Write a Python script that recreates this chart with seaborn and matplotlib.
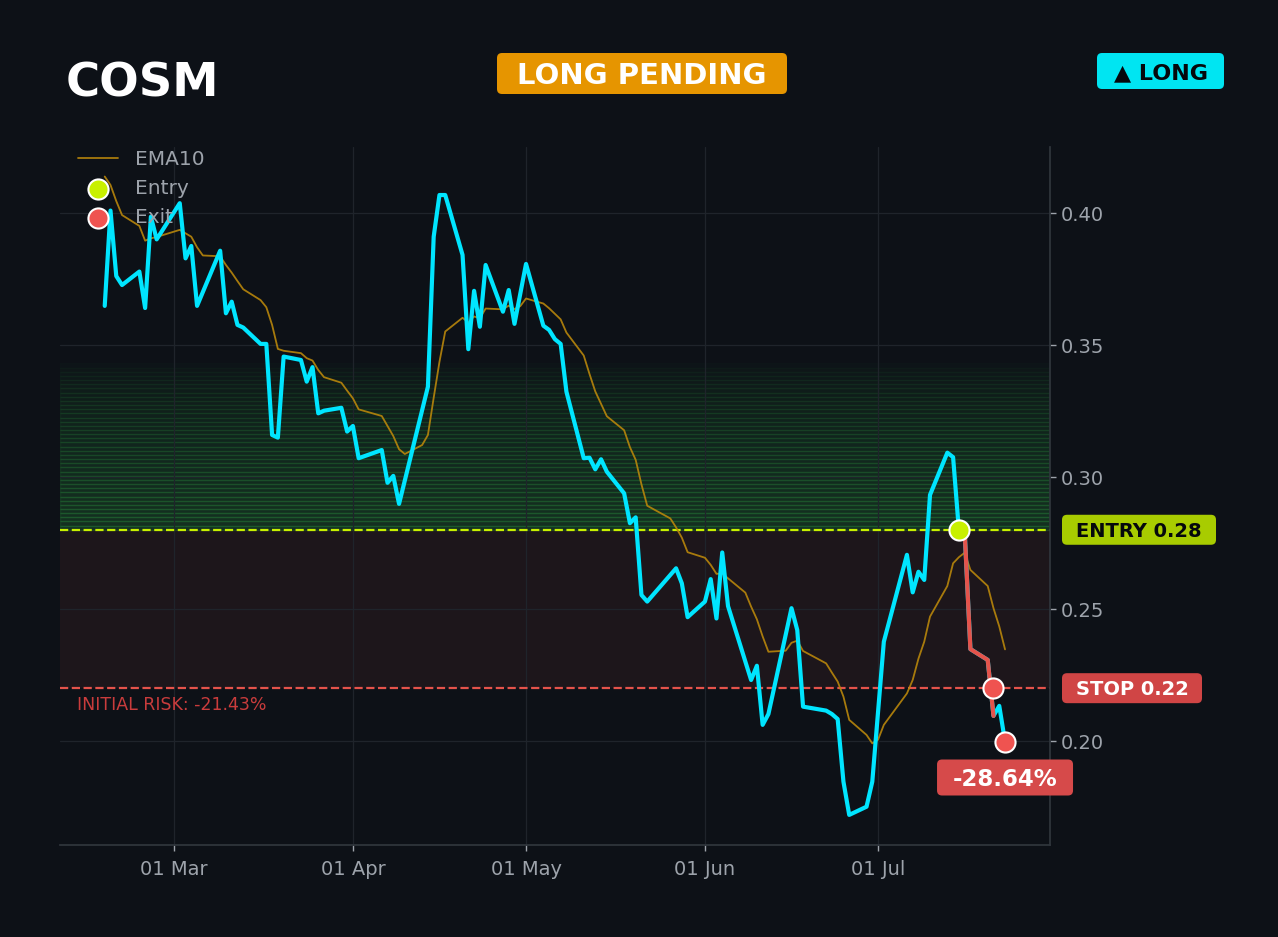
import pandas as pd
import numpy as np
import matplotlib
matplotlib.use("Agg")
import matplotlib.pyplot as plt
import matplotlib.dates as mdates
import seaborn as sns
from matplotlib.patches import FancyBboxPatch
from matplotlib.transforms import IdentityTransform, blended_transform_factory

# DATA

ticker = "COSM"
status = "LONG PENDING"
side = "\u25b2 LONG"

entry_price = 0.28
stop_price = 0.22
entry_date = "2026-07-15"
stop_date = "2026-07-21"

close_dates = [
    "2026-02-17", "2026-02-18", "2026-02-19", "2026-02-20", "2026-02-23", "2026-02-24",
    "2026-02-25", "2026-02-26", "2026-03-02", "2026-03-03", "2026-03-04", "2026-03-05",
    "2026-03-09", "2026-03-10", "2026-03-11", "2026-03-12", "2026-03-13", "2026-03-16",
    "2026-03-17", "2026-03-18", "2026-03-19", "2026-03-20", "2026-03-23", "2026-03-24",
    "2026-03-25", "2026-03-26", "2026-03-27", "2026-03-30", "2026-03-31", "2026-04-01",
    "2026-04-02", "2026-04-06", "2026-04-07", "2026-04-08", "2026-04-09", "2026-04-14",
    "2026-04-15", "2026-04-16", "2026-04-17", "2026-04-20", "2026-04-21", "2026-04-22",
    "2026-04-23", "2026-04-24", "2026-04-27", "2026-04-28", "2026-04-29", "2026-05-01",
    "2026-05-04", "2026-05-05", "2026-05-06", "2026-05-07", "2026-05-08", "2026-05-11",
    "2026-05-12", "2026-05-13", "2026-05-14", "2026-05-15", "2026-05-18", "2026-05-19",
    "2026-05-20", "2026-05-21", "2026-05-22", "2026-05-27", "2026-05-28", "2026-05-29",
    "2026-06-01", "2026-06-02", "2026-06-03", "2026-06-04", "2026-06-05", "2026-06-09",
    "2026-06-10", "2026-06-11", "2026-06-12", "2026-06-16", "2026-06-17", "2026-06-18",
    "2026-06-22", "2026-06-23", "2026-06-24", "2026-06-25", "2026-06-26", "2026-06-29",
    "2026-06-30", "2026-07-02", "2026-07-06", "2026-07-07", "2026-07-08", "2026-07-09",
    "2026-07-10", "2026-07-13", "2026-07-14", "2026-07-15", "2026-07-16", "2026-07-17",
    "2026-07-20", "2026-07-21", "2026-07-22", "2026-07-23",
]
close_vals = [
    0.3648, 0.4009, 0.3761, 0.3727, 0.3778, 0.3640,
    0.3986, 0.3900, 0.4037, 0.3828, 0.3875, 0.3648,
    0.3857, 0.3620, 0.3664, 0.3576, 0.3566, 0.3504,
    0.3504, 0.3159, 0.3149, 0.3456, 0.3443, 0.3361,
    0.3416, 0.3241, 0.3251, 0.3262, 0.3172, 0.3193,
    0.3071, 0.3102, 0.2978, 0.3004, 0.2898, 0.3342,
    0.3910, 0.4068, 0.4068, 0.3841, 0.3484, 0.3705,
    0.3569, 0.3803, 0.3626, 0.3708, 0.3580, 0.3807,
    0.3573, 0.3557, 0.3522, 0.3504, 0.3323, 0.3071,
    0.3073, 0.3029, 0.3067, 0.3020, 0.2938, 0.2825,
    0.2847, 0.2553, 0.2528, 0.2654, 0.2597, 0.2469,
    0.2528, 0.2613, 0.2464, 0.2714, 0.2511, 0.2231,
    0.2285, 0.2061, 0.2102, 0.2503, 0.2420, 0.2130,
    0.2115, 0.2102, 0.2083, 0.1846, 0.1720, 0.1751,
    0.1846, 0.2376, 0.2705, 0.2563, 0.2641, 0.2610,
    0.2932, 0.3092, 0.3075, 0.2800, 0.2795, 0.2348,
    0.2307, 0.2095, 0.2133, 0.1998,
]

ema_dates = [
    "2026-02-17", "2026-02-18", "2026-02-19", "2026-02-20", "2026-02-23", "2026-02-24",
    "2026-02-25", "2026-02-26", "2026-03-02", "2026-03-03", "2026-03-04", "2026-03-05",
    "2026-03-06", "2026-03-09", "2026-03-10", "2026-03-11", "2026-03-12", "2026-03-13",
    "2026-03-16", "2026-03-17", "2026-03-18", "2026-03-19", "2026-03-20", "2026-03-23",
    "2026-03-24", "2026-03-25", "2026-03-26", "2026-03-27", "2026-03-30", "2026-03-31",
    "2026-04-01", "2026-04-02", "2026-04-06", "2026-04-07", "2026-04-08", "2026-04-09",
    "2026-04-10", "2026-04-13", "2026-04-14", "2026-04-15", "2026-04-16", "2026-04-17",
    "2026-04-20", "2026-04-21", "2026-04-22", "2026-04-23", "2026-04-24", "2026-04-27",
    "2026-04-28", "2026-04-29", "2026-04-30", "2026-05-01", "2026-05-04", "2026-05-05",
    "2026-05-06", "2026-05-07", "2026-05-08", "2026-05-11", "2026-05-12", "2026-05-13",
    "2026-05-14", "2026-05-15", "2026-05-18", "2026-05-19", "2026-05-20", "2026-05-21",
    "2026-05-22", "2026-05-26", "2026-05-27", "2026-05-28", "2026-05-29", "2026-06-01",
    "2026-06-02", "2026-06-03", "2026-06-04", "2026-06-05", "2026-06-08", "2026-06-09",
    "2026-06-10", "2026-06-11", "2026-06-12", "2026-06-15", "2026-06-16", "2026-06-17",
    "2026-06-18", "2026-06-22", "2026-06-23", "2026-06-24", "2026-06-25", "2026-06-26",
    "2026-06-29", "2026-06-30", "2026-07-01", "2026-07-02", "2026-07-06", "2026-07-07",
    "2026-07-08", "2026-07-09", "2026-07-10", "2026-07-13", "2026-07-14", "2026-07-15",
    "2026-07-16", "2026-07-17", "2026-07-20", "2026-07-21", "2026-07-22", "2026-07-23",
]
ema_vals = [
    0.4138, 0.4106, 0.4045, 0.3992, 0.3951, 0.3895,
    0.3904, 0.3909, 0.3936, 0.3923, 0.3910, 0.3870,
    0.3839, 0.3836, 0.3803, 0.3774, 0.3742, 0.3711,
    0.3670, 0.3643, 0.3576, 0.3485, 0.3478, 0.3469,
    0.3450, 0.3441, 0.3405, 0.3378, 0.3357, 0.3327,
    0.3298, 0.3256, 0.3231, 0.3193, 0.3155, 0.3105,
    0.3087, 0.3121, 0.3159, 0.3300, 0.3436, 0.3551,
    0.3603, 0.3585, 0.3608, 0.3601, 0.3638, 0.3635,
    0.3649, 0.3636, 0.3647, 0.3676, 0.3657, 0.3639,
    0.3618, 0.3597, 0.3547, 0.3460, 0.3390, 0.3324,
    0.3277, 0.3230, 0.3177, 0.3113, 0.3065, 0.2972,
    0.2891, 0.2843, 0.2809, 0.2770, 0.2715, 0.2694,
    0.2667, 0.2633, 0.2635, 0.2616, 0.2562, 0.2509,
    0.2461, 0.2396, 0.2338, 0.2342, 0.2372, 0.2380,
    0.2341, 0.2294, 0.2259, 0.2225, 0.2168, 0.2080,
    0.2023, 0.1991, 0.2005, 0.2061, 0.2180, 0.2231,
    0.2312, 0.2376, 0.2471, 0.2587, 0.2673, 0.2696,
    0.2713, 0.2648, 0.2587, 0.2503, 0.2434, 0.2347,
]

df = pd.DataFrame({"Date": pd.to_datetime(close_dates), "Close": close_vals})
ema = pd.DataFrame({"Date": pd.to_datetime(ema_dates), "EMA10": ema_vals})

trade = df[(df["Date"] >= entry_date) & (df["Date"] <= stop_date)]
last_date = df["Date"].iloc[-1]
last_close = df["Close"].iloc[-1]

initial_risk = (stop_price - entry_price) / entry_price * 100
final_ret = (last_close - entry_price) / entry_price * 100

# COLOURS

BG = "#0d1117"
CYAN = "#00e5ff"
RED = "#e5534b"
LIME = "#c8f000"
GRAY = "#9da3ab"

# STYLE

sns.set_theme(style="dark")
plt.rcParams["font.family"] = ["DejaVu Sans"]

fig = plt.figure(figsize=(12.78, 9.3705), dpi=100, facecolor=BG)
ax = fig.add_axes([60 / 1278, 1 - 845 / 937, 990 / 1278, 698 / 937])
ax.set_facecolor(BG)

# ZONES

ax.axhspan(stop_price, entry_price, color=RED, alpha=0.08, lw=0, zorder=0)

# stacked bands; the edge stroke of each band leaves the thin stripes
n_bands = 40
zone_top = 0.343
dh = (zone_top - entry_price) / n_bands
for i in range(n_bands):
    ax.axhspan(entry_price + i * dh, entry_price + (i + 1) * dh,
               color="#2ea043", alpha=0.22 * (1 - i / n_bands) ** 0.6, lw=1, zorder=0)

ax.axhline(entry_price, color=LIME, ls="--", lw=1.6, zorder=2)
ax.axhline(stop_price, color=RED, ls="--", lw=1.6, zorder=2)

# LINES

sns.lineplot(data=ema, x="Date", y="EMA10", color="#b8860b", lw=1.3, alpha=0.9,
             label="EMA10", ax=ax, zorder=3)
sns.lineplot(data=df, x="Date", y="Close", color=CYAN, lw=3, ax=ax, zorder=4)
sns.lineplot(data=trade, x="Date", y="Close", color=RED, lw=3, ax=ax, zorder=5)

sns.scatterplot(x=[pd.Timestamp(entry_date)], y=[entry_price], s=210, color=LIME,
                edgecolor="white", linewidth=1.5, label="Entry", ax=ax, zorder=6)
sns.scatterplot(x=[pd.Timestamp(stop_date), last_date], y=[stop_price, last_close], s=210,
                color="#ef5350", edgecolor="white", linewidth=1.5, label="Exit", ax=ax, zorder=6)

# AXES

ax.set_xlim(pd.Timestamp("2026-02-09 06:00"), pd.Timestamp("2026-07-30 19:00"))
ax.set_ylim(0.1606, 0.425)
ax.set_xlabel("")
ax.set_ylabel("")

ax.xaxis.set_major_locator(mdates.MonthLocator())
ax.xaxis.set_major_formatter(mdates.DateFormatter("%d %b"))
ax.yaxis.tick_right()
ax.set_yticks([0.20, 0.25, 0.30, 0.35, 0.40])
ax.yaxis.set_major_formatter(matplotlib.ticker.FormatStrFormatter("%.2f"))

ax.grid(True, color="#1f242b", lw=0.9)
ax.tick_params(axis="both", colors=GRAY, labelsize=14, length=4, width=1)
ax.tick_params(axis="x", bottom=True, pad=7)
ax.tick_params(axis="y", right=True, left=False)
for s in ["top", "left"]:
    ax.spines[s].set_visible(False)
for s in ["right", "bottom"]:
    ax.spines[s].set_visible(True)
    ax.spines[s].set_color("#30363d")

ax.text(0.017, 0.2135, f"INITIAL RISK: {initial_risk:.2f}%",
        transform=blended_transform_factory(ax.transAxes, ax.transData),
        color="#c93c3c", fontsize=12.5, va="center", ha="left")

leg = ax.legend(loc="upper left", bbox_to_anchor=(0, 1.022), frameon=False,
                labelcolor=GRAY, fontsize=14.5)

# BADGES


def badge(cx, cy, w, h, text, fc, tc, size):
    fig.patches.append(FancyBboxPatch((cx - w / 2, cy - h / 2), w, h,
                                      boxstyle="round,pad=0,rounding_size=5",
                                      transform=IdentityTransform(), facecolor=fc,
                                      edgecolor="none", figure=fig, zorder=10))
    fig.text(cx, cy - 0.35 * size * 100 / 72, text, transform=IdentityTransform(),
             ha="center", va="baseline", color=tc, fontsize=size, fontweight="bold",
             zorder=11)


H = 937
fig.text(66, H - 96, ticker, transform=IdentityTransform(), color="white",
         fontsize=33.5, fontweight="bold", ha="left", va="baseline")
badge(642, H - 73.5, 290, 41, status, "#e69500", "white", 21)
badge(1160.5, H - 71, 127, 36, side, "#00e5f2", "#05080c", 16)

ey = ax.transData.transform((0, entry_price))[1]
sy = ax.transData.transform((0, stop_price))[1]
badge(1139, ey, 154, 30, f"ENTRY {entry_price:.2f}", "#a8cc00", "#05080c", 14)
badge(1132, sy, 140, 30, f"STOP {stop_price:.2f}", "#d04545", "white", 14)

lx, ly = ax.transData.transform((mdates.date2num(last_date), last_close))
badge(lx, ly - 36, 136, 36, f"{final_ret:.2f}%", "#d64a4a", "white", 16.5)

fig.savefig("out.png", dpi=100, facecolor=BG)
plt.close()
